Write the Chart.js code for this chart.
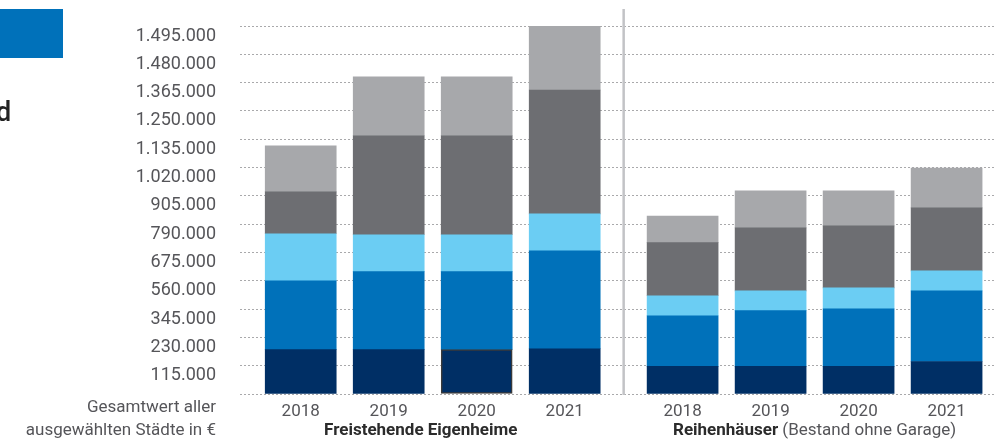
<!DOCTYPE html>
<html lang="de">
<head>
<meta charset="utf-8">
<title>Gesamtwert</title>
<script src="https://cdn.jsdelivr.net/npm/chart.js@4.4.1/dist/chart.umd.min.js"></script>
<style>
    html, body { margin: 0; padding: 0; background: #ffffff; }
    #wrap { position: relative; width: 995px; height: 444px; overflow: hidden; }
    #legendBox { position: absolute; left: 0; top: 9px; width: 63px; height: 49px; background: #0071ba; }
    #legendText { position: absolute; left: -4px; top: 96px; font: 500 27px Roboto, sans-serif; color: #222; }
</style>
</head>
<body>
<div id="wrap">
    <canvas id="valueChart"></canvas>
    <div id="legendBox"></div>
    <div id="legendText">d</div>
</div>
<script>
// categories
const years = ['2018', '2019', '2020', '2021'];
const groups = ['Freistehende Eigenheime', 'Reihenhäuser'];
const groupNotes = ['', '(Bestand ohne Garage)'];
const axisNote = ['Gesamtwert aller', 'ausgewählten Städte in €'];

// series values in €, first four = Freistehende Eigenheime, last four = Reihenhäuser
const seriesNames = ['Teil 1', 'Teil 2', 'Teil 3', 'Teil 4', 'Teil 5'];
const navyValues = [180000, 180000, 180000, 184000, 112000, 112000, 112000, 132000];
const blueValues = [280000, 317000, 317000, 398000, 206000, 227000, 234000, 287000];
const skyValues = [191000, 150000, 150000, 150000, 81000, 80000, 85000, 81000];
const darkGreyValues = [170000, 402000, 402000, 503000, 216000, 256000, 252000, 256000];
const lightGreyValues = [187000, 240000, 240000, 260000, 108000, 150000, 142000, 162000];

// tick labels as printed on the original axis
const yTickLabels = ['', '115.000', '230.000', '345.000', '560.000', '675.000', '790.000',
    '905.000', '1.020.000', '1.135.000', '1.250.000', '1.365.000', '1.480.000', '1.495.000'];
const yStep = 115000;

const colors = {
    navy: '#002f65',
    blue: '#0071ba',
    sky: '#6bcdf3',
    darkGrey: '#6d6e72',
    lightGrey: '#a7a8ab',
    text: '#555559',
    title: '#2b2b2b',
    grid: '#a9a9ab',
    divider: '#c2c3c6',
};

const FONT = 'Roboto, "Liberation Sans", sans-serif';
const GROUP_GAP = 0.34;
const titleShift = [-12, 0];

// x position of each bar: index inside the group plus an extra gap between groups
const positions = [];
groups.forEach((g, gi) => {
    years.forEach((y, yi) => positions.push(gi * (years.length + GROUP_GAP) + yi));
});
const xLabels = groups.flatMap(() => years);

function toPoints(values) {
    return values.map((v, i) => ({ x: positions[i], y: v }));
}

const seriesValues = [navyValues, blueValues, skyValues, darkGreyValues, lightGreyValues];
const seriesColors = [colors.navy, colors.blue, colors.sky, colors.darkGrey, colors.lightGrey];

const datasets = seriesValues.map((values, i) => ({
    label: seriesNames[i],
    data: toPoints(values),
    backgroundColor: seriesColors[i],
    borderWidth: 0,
    barThickness: 71,
}));
// the 2020 bottom block is outlined in the original
datasets[0].borderColor = '#3a3a3a';
datasets[0].borderWidth = positions.map((p, i) => (i === 2 ? 1.5 : 0));
datasets[0].borderSkipped = false;

const annotations = {
    id: 'annotations',
    beforeDatasetsDraw(chart) {
        const { ctx, scales: { x, y } } = chart;
        const n = years.length;
        const mid = x.getPixelForValue((positions[n - 1] + positions[n]) / 2);
        ctx.save();
        ctx.strokeStyle = colors.divider;
        ctx.lineWidth = 2.5;
        ctx.beginPath();
        ctx.moveTo(mid, 9);
        ctx.lineTo(mid, y.getPixelForValue(0) + 1);
        ctx.stroke();
        ctx.restore();
    },
    afterDraw(chart) {
        const { ctx, scales: { x } } = chart;
        const n = years.length;
        ctx.save();
        ctx.textBaseline = 'middle';

        // axis note at the left
        ctx.font = '17px ' + FONT;
        ctx.fillStyle = colors.text;
        ctx.textAlign = 'right';
        ctx.fillText(axisNote[0], 216, 408);
        ctx.fillText(axisNote[1], 216, 431);

        // group titles
        groups.forEach((g, gi) => {
            const first = x.getPixelForValue(positions[gi * n]);
            const last = x.getPixelForValue(positions[gi * n + n - 1]);
            const center = (first + last) / 2 + titleShift[gi];
            ctx.font = 'bold 17px ' + FONT;
            const wBold = ctx.measureText(g).width;
            const note = groupNotes[gi] ? ' ' + groupNotes[gi] : '';
            ctx.font = '17px ' + FONT;
            const wNote = ctx.measureText(note).width;
            let left = center - (wBold + wNote) / 2;
            ctx.textAlign = 'left';
            ctx.font = 'bold 17px ' + FONT;
            ctx.fillStyle = colors.title;
            ctx.fillText(g, left, 431);
            if (note) {
                ctx.font = '17px ' + FONT;
                ctx.fillStyle = colors.text;
                ctx.fillText(note, left + wBold, 431);
            }
        });
        ctx.restore();
    }
};

new Chart(document.getElementById('valueChart'), {
    type: 'bar',
    data: { datasets },
    options: {
        responsive: true,
        maintainAspectRatio: false,
        animation: false,
        layout: { padding: { top: 26, right: 0, left: 0, bottom: 0 } },
        plugins: {
            legend: { display: false },
            tooltip: { enabled: false },
        },
        scales: {
            x: {
                type: 'linear',
                stacked: true,
                offset: false,
                min: -0.69,
                max: 7.89,
                grid: { display: false, offset: false },
                border: { display: false },
                afterBuildTicks: (axis) => {
                    axis.ticks = positions.map(v => ({ value: v }));
                },
                afterFit: (axis) => { axis.height = 50; },
                ticks: {
                    color: colors.text,
                    font: { size: 17, family: FONT },
                    padding: 0,
                    maxRotation: 0,
                    autoSkip: false,
                    callback: (value) => {
                        const i = positions.findIndex(p => Math.abs(p - value) < 1e-6);
                        return i >= 0 ? xLabels[i] : '';
                    },
                },
            },
            y: {
                stacked: true,
                min: 0,
                max: yStep * (yTickLabels.length - 1),
                afterFit: (axis) => {
                    axis.width = 240;
                    axis.paddingTop = 0;
                    axis.paddingBottom = 0;
                },
                grid: {
                    color: colors.grid,
                    lineWidth: 1,
                    drawTicks: false,
                },
                border: { display: false, dash: [2, 2] },
                ticks: {
                    stepSize: yStep,
                    color: colors.text,
                    font: { size: 18, family: FONT },
                    padding: 24,
                    labelOffset: 10,
                    callback: (value) => yTickLabels[Math.round(value / yStep)],
                },
            },
        },
    },
    plugins: [annotations],
});
</script>
</body>
</html>
